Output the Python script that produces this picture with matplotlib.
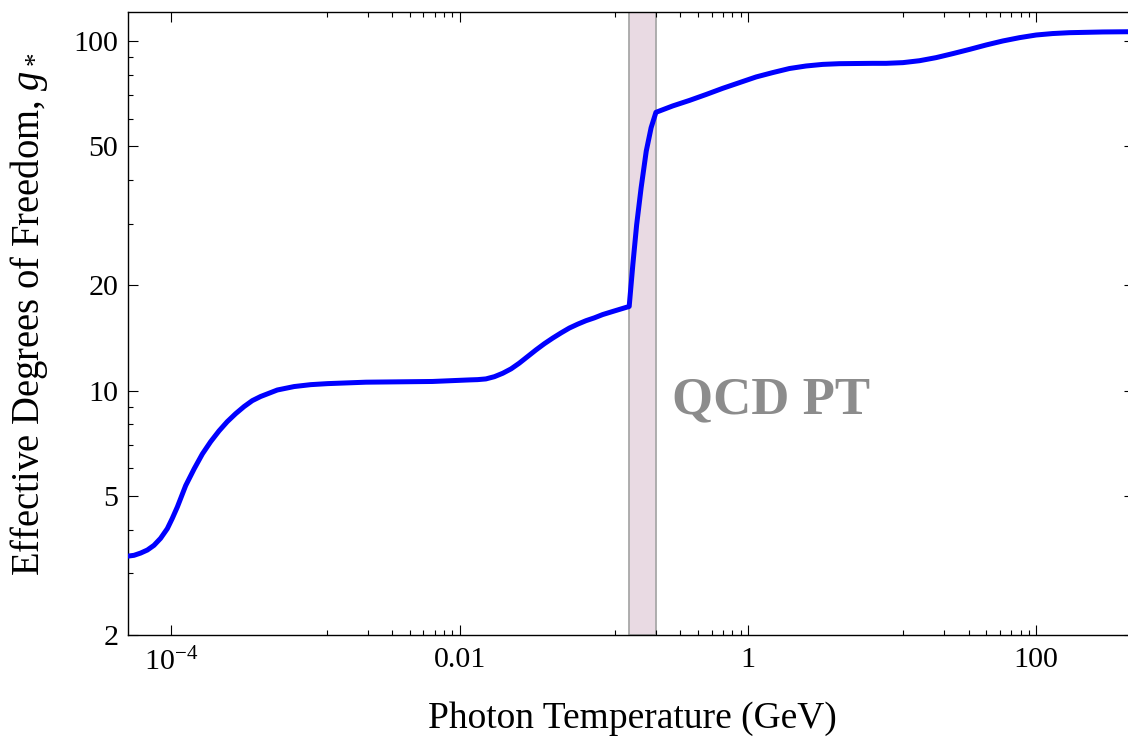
import numpy as np
import matplotlib
matplotlib.use('Agg')
import matplotlib.pyplot as plt
from matplotlib.ticker import FixedLocator, FixedFormatter, NullFormatter

plt.rcParams['font.family'] = 'Liberation Serif'
plt.rcParams['mathtext.fontset'] = 'custom'
plt.rcParams['mathtext.rm'] = 'Liberation Serif'
plt.rcParams['mathtext.it'] = 'Liberation Serif:italic'

# photon temperature (GeV) and effective relativistic degrees of freedom
temperature = [4.94e-5, 5.50e-5, 6.11e-5, 6.81e-5, 7.57e-5, 8.41e-5, 9.37e-5, 1.014e-4,
               1.10e-4, 1.256e-4, 1.44e-4, 1.64e-4, 1.87e-4, 2.14e-4, 2.44e-4, 2.79e-4,
               3.19e-4, 3.64e-4, 4.16e-4, 5.43e-4, 7.10e-4, 9.25e-4, 1.21e-3, 2.24e-3,
               6.47e-3, 0.0117, 0.01333, 0.0152, 0.01741, 0.0199, 0.02274, 0.0259,
               0.02965, 0.0339, 0.0387, 0.0442, 0.0506, 0.0577, 0.0659, 0.0753, 0.0861,
               0.0982, 0.1186, 0.143,
               0.150, 0.159, 0.169, 0.1815, 0.197, 0.213, 0.230,
               0.301, 0.393, 0.513, 0.668, 0.873, 1.14, 1.486, 1.94, 2.53, 3.30, 4.31,
               7.35, 9.10, 11.9, 15.5, 20.2, 26.4, 34.5, 45.0, 58.7, 76.6, 100, 130,
               170, 290, 480]
g_star = [3.36, 3.38, 3.43, 3.50, 3.61, 3.78, 4.03, 4.31,
          4.65, 5.35, 5.98, 6.59, 7.14, 7.67, 8.15, 8.59,
          9.0, 9.36, 9.62, 10.04, 10.27, 10.40, 10.47, 10.57,
          10.62, 10.73, 10.75, 10.8, 10.96, 11.21, 11.54, 11.98,
          12.52, 13.08, 13.62, 14.13, 14.63, 15.1, 15.49, 15.85, 16.15,
          16.5, 16.9, 17.3,
          17.4, 22.9, 29.8, 38.0, 48.4, 56.5, 62.5,
          65.2, 67.6, 70.3, 73.2, 76.0, 78.9, 81.2, 83.4, 84.8, 85.7, 86.1,
          86.3, 86.3, 86.7, 87.8, 89.6, 92.0, 94.6, 97.4, 100, 102.2, 104.0, 105.0,
          105.6, 106.1, 106.3]

qcd_band = (0.15, 0.23)

x_major = [1e-4, 1e-2, 1, 100]
x_major_labels = ['$10^{-4}$', '0.01', '1', '100']
y_major = [2, 5, 10, 20, 50, 100]
y_major_labels = ['2', '5', '10', '20', '50', '100']
y_minor = [3, 4, 6, 7, 8, 9, 30, 40, 60, 70, 80, 90]

# minor ticks split each interval between majors linearly
x_minor = []
for a, b in zip(x_major[:-1], x_major[1:]):
    x_minor += list(np.linspace(a, b, 10)[1:-1])

fig = plt.figure(figsize=(11.28, 7.37), dpi=100)
ax = fig.add_axes([0.1135, 0.1384, 0.8918, 0.8453])
ax.set_xscale('log')
ax.set_yscale('log')

ax.axvspan(qcd_band[0], qcd_band[1], facecolor='#e9dae3', edgecolor='#a8a8a8',
           lw=1.3, zorder=1)
ax.plot(temperature, g_star, color='#0000ff', lw=3.6, zorder=3)
ax.text(0.299, 8.59, 'QCD PT', fontsize=38, fontweight='bold', color='#8c8c8c',
        ha='left', va='baseline')

ax.set_xlim(5e-5, 477)
ax.set_ylim(2, 121)

ax.xaxis.set_major_locator(FixedLocator(x_major))
ax.xaxis.set_major_formatter(FixedFormatter(x_major_labels))
ax.xaxis.set_minor_locator(FixedLocator(x_minor))
ax.xaxis.set_minor_formatter(NullFormatter())
ax.yaxis.set_major_locator(FixedLocator(y_major))
ax.yaxis.set_major_formatter(FixedFormatter(y_major_labels))
ax.yaxis.set_minor_locator(FixedLocator(y_minor))
ax.yaxis.set_minor_formatter(NullFormatter())

ax.tick_params(which='both', direction='in', top=True, right=True, width=0.8)
ax.tick_params(which='major', length=7.5, labelsize=21.6)
ax.tick_params(which='minor', length=3.8)
ax.tick_params(axis='x', which='major', pad=9)
ax.tick_params(axis='y', which='major', pad=7)
for s in ax.spines.values():
    s.set_linewidth(1.0)

ax.set_xlabel('Photon Temperature (GeV)', fontsize=27)
ax.set_ylabel('Effective Degrees of Freedom, $g_*$', fontsize=27.8)
ax.xaxis.set_label_coords(0.501, -0.106)
ax.yaxis.set_label_coords(-0.078, 0.514)

fig.savefig('out.png', dpi=100)
